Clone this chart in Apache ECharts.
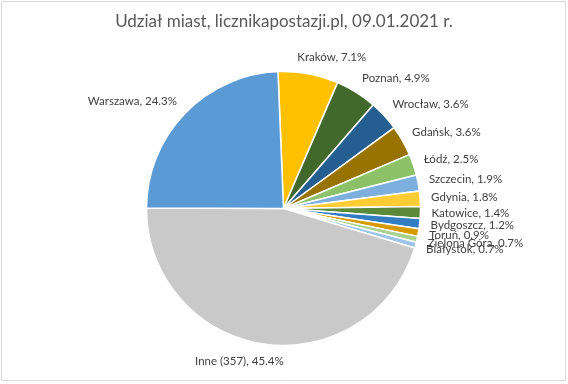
<!DOCTYPE html>
<html><head><meta charset="utf-8">
<script src="https://cdn.jsdelivr.net/npm/echarts@6/dist/echarts.min.js"></script>
<style>html,body{margin:0;padding:0;background:#fff}#c{width:568px;height:384px}</style>
</head><body><div id="c"></div>
<script>
const titleText = 'Udział miast, licznikapostazji.pl, 09.01.2021 r.';
const categories = ['Kraków','Poznań','Wrocław','Gdańsk','Łódź','Szczecin','Gdynia','Katowice','Bydgoszcz','Toruń','Zielona Góra','Białystok','Inne (357)','Warszawa'];
const shares = [7.1,4.9,3.6,3.6,2.5,1.9,1.8,1.4,1.2,0.9,0.7,0.7,45.4,24.3];
const colors = ['#FFC000','#43682B','#255E91','#997300','#8CC168','#7CAFDD','#FFCD33','#5A8A39','#327DC2','#D59B00','#A9D18E','#9DC3E6','#C9C9C9','#5B9BD5'];

const CX = 283.5, CY = 208.5, RAD = 137, ROT = -2.3; // rotation in degrees (counterclockwise)
const total = shares.reduce((a,b)=>a+b,0);
const mids = [];
let acc = 0;
shares.forEach(v => { mids.push((acc + v/2)/total*360 + ROT); acc += v; });

const chart = echarts.init(document.getElementById('c'), null, {renderer:'canvas'});
const clamp = (v)=>Math.max(-1,Math.min(1,v));
chart.setOption({
  backgroundColor:'#fff',
  animation:false,
  title:{text:titleText,left:'center',top:8,textStyle:{fontFamily:'Lato',fontSize:17,fontWeight:'normal',color:'#595959'}},
  graphic:[{type:'rect',shape:{x:1.5,y:1.5,width:564,height:379},style:{fill:'none',stroke:'#D9D9D9',lineWidth:1},silent:true}],
  series:[{
    type:'pie',
    center:[CX,CY],
    radius:RAD,
    startAngle:90 - ROT,
    clockwise:true,
    avoidLabelOverlap:false,
    itemStyle:{borderColor:'#fff',borderWidth:1.5},
    label:{show:true,position:'outside',fontFamily:'Lato',fontSize:11.5,color:'#404040',
      formatter:p=>p.name+', '+p.value.toFixed(1).replace(/\.0$/,'.0')+'%'},
    labelLine:{show:false,length:5,length2:0},
    labelLayout:function(p){
      const th = mids[p.dataIndex]*Math.PI/180;
      const s = Math.sin(th), c = Math.cos(th);
      const R = RAD + 11;
      const px = CX + R*s, py = CY - R*c;
      const hw = p.labelRect.width/2, hh = 6;
      return {x: px + hw*clamp(3.4*s), y: py - hh*clamp(c), align:'center', verticalAlign:'middle'};
    },
    data: categories.map((n,i)=>({name:n,value:shares[i],itemStyle:{color:colors[i]}}))
  }]
});
</script></body></html>
